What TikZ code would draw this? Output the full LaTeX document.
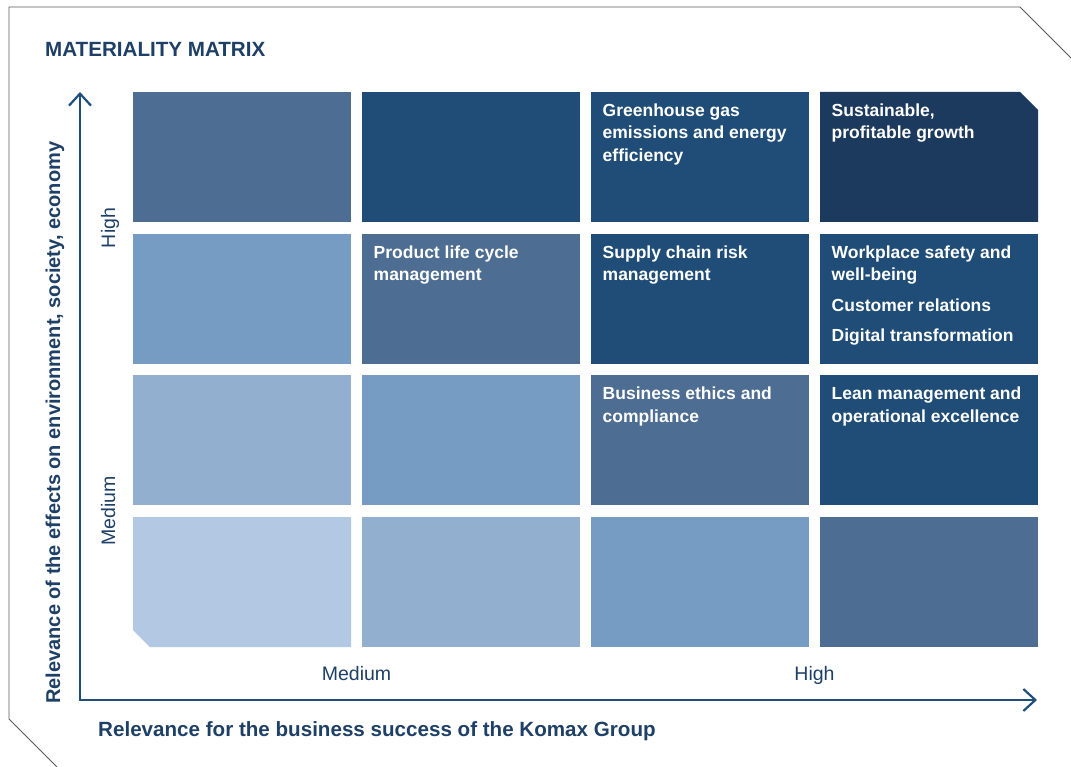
\documentclass[tikz,border=0pt]{standalone}
\usepackage{fontspec}
\setmainfont{Liberation Sans}
\usetikzlibrary{arrows.meta}

\definecolor{mmDarkest}{HTML}{1C3A5E}
\definecolor{mmDark}{HTML}{1F4D77}
\definecolor{mmMid}{HTML}{4D6D93}
\definecolor{mmLight}{HTML}{779CC4}
\definecolor{mmLighter}{HTML}{93AFCF}
\definecolor{mmLightest}{HTML}{B3C9E3}
\definecolor{mmInk}{HTML}{1E3F66}
\definecolor{mmAxis}{HTML}{1F4E79}
\definecolor{mmFrame}{HTML}{5A5A5A}

\tikzset{
  cell/.style={fill=#1, draw=none, minimum width=218pt, minimum height=130pt,
    inner sep=0pt, outer sep=0pt, anchor=north west},
  celltext/.style={text=white, align=left, inner sep=0pt, anchor=north west,
    font=\fontsize{17.5}{22.5}\selectfont\bfseries},
  heading/.style={text=mmInk, inner sep=0pt, font=\fontsize{20.6}{24}\selectfont\bfseries},
  ticklabel/.style={text=mmInk, inner sep=0pt, anchor=base, font=\fontsize{19.5}{24}\selectfont},
  axisline/.style={draw=mmAxis, line width=2.2pt,
    {Straight Barb[length=12pt,width=22pt]}-{Straight Barb[length=12pt,width=22pt]}}
}

\begin{document}
\begin{tikzpicture}[x=1pt, y=-1pt]
  \useasboundingbox (0,0) rectangle (1071,767);

  %% outer frame with the two cut corners
  \draw[mmFrame, line width=0.8pt] (1071,58) -- (1020,7) -- (9,7) -- (9,719) -- (57,767);

  \node[heading, anchor=base west] (title) at (45,57) {MATERIALITY MATRIX};

  %% the 4x4 matrix, column/row/shade
  \foreach \c/\r/\shade in {1/1/mmMid, 2/1/mmDark, 3/1/mmDark,
                            1/2/mmLight, 2/2/mmMid, 3/2/mmDark, 4/2/mmDark,
                            2/3/mmLight, 1/3/mmLighter, 3/3/mmMid, 4/3/mmDark,
                            2/4/mmLighter, 3/4/mmLight, 4/4/mmMid}
    \node[cell=\shade] (cell-\c-\r) at ({133+(\c-1)*229}, {92+(\r-1)*141.7}) {};
  %% the two corner cells get a cut corner
  \node[cell=none] (cell-4-1) at (820,92) {};
  \node[cell=none] (cell-1-4) at (133,517.1) {};
  \fill[mmDarkest] (cell-4-1.north west) -- ([xshift=-18pt]cell-4-1.north east)
    -- ([yshift=-18pt]cell-4-1.north east) -- (cell-4-1.south east)
    -- (cell-4-1.south west) -- cycle;
  \fill[mmLightest] (cell-1-4.north west) -- (cell-1-4.north east)
    -- (cell-1-4.south east) -- ([xshift=17pt]cell-1-4.south west)
    -- ([yshift=17pt]cell-1-4.south west) -- cycle;

  %% topics
  \node[celltext] (t-plc) at ([xshift=11.5pt, yshift=-11.5pt]cell-2-2.north west)
    {Product life cycle\\management};
  \node[celltext] (t-ghg) at ([xshift=11.5pt, yshift=-11.5pt]cell-3-1.north west)
    {Greenhouse gas\\emissions and energy\\efficiency};
  \node[celltext] (t-growth) at ([xshift=11.5pt, yshift=-11.5pt]cell-4-1.north west)
    {Sustainable,\\profitable growth};
  \node[celltext] (t-supply) at ([xshift=11.5pt, yshift=-11.5pt]cell-3-2.north west)
    {Supply chain risk\\management};
  \node[celltext] (t-safety) at ([xshift=11.5pt, yshift=-11.5pt]cell-4-2.north west)
    {Workplace safety and\\well-being\\[8pt]Customer relations\\[8pt]Digital transformation};
  \node[celltext] (t-ethics) at ([xshift=11.5pt, yshift=-11.5pt]cell-3-3.north west)
    {Business ethics and\\compliance};
  \node[celltext] (t-lean) at ([xshift=11.5pt, yshift=-11.5pt]cell-4-3.north west)
    {Lean management and\\operational excellence};

  %% axes
  \coordinate (origin) at (80,700);
  \coordinate (ytip) at (80,92);
  \coordinate (xtip) at (1037,700);
  \draw[axisline] (ytip) -- (origin) -- (xtip);

  \node[ticklabel] (x-med) at (356.5,680) {Medium};
  \node[ticklabel] (x-high) at (814.5,680) {High};
  \node[ticklabel, rotate=90] (y-high) at (115,228) {High};
  \node[ticklabel, rotate=90] (y-med) at (115,511) {Medium};

  \node[heading, anchor=base west] (x-label) at (98,736)
    {Relevance for the business success of the Komax Group};
  \node[heading, anchor=base west, rotate=90, font=\fontsize{20}{24}\selectfont\bfseries] (y-label) at (60,704)
    {Relevance of the effects on environment, society, economy};
\end{tikzpicture}
\end{document}
